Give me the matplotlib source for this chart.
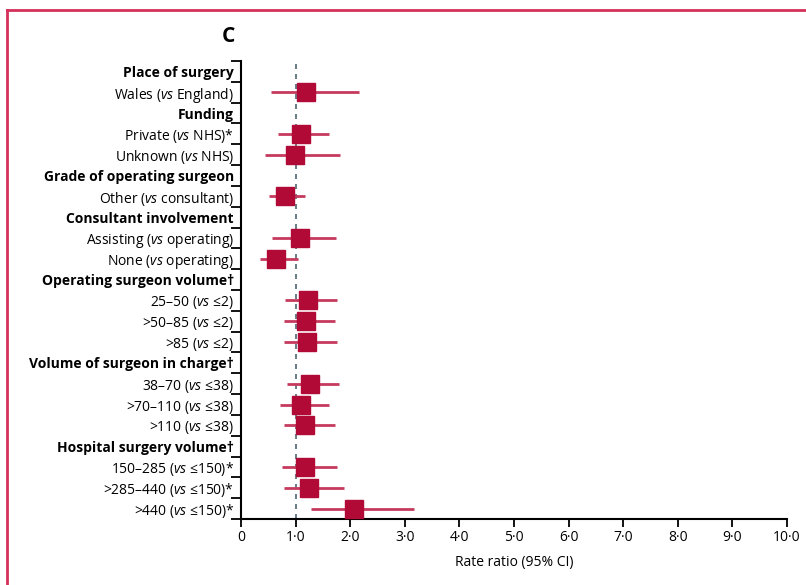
import numpy as np
import matplotlib.pyplot as plt
from matplotlib.lines import Line2D

plt.rcParams['font.family'] = ['Open Sans', 'DejaVu Sans']
plt.rcParams['mathtext.fontset'] = 'custom'
plt.rcParams['mathtext.rm'] = 'Open Sans'
plt.rcParams['mathtext.it'] = 'Open Sans:italic'
plt.rcParams['mathtext.bf'] = 'Open Sans:bold'

# rows, top to bottom
labels = [
    "Place of surgery",
    r"Wales ($\mathit{vs}$ England)",
    "Funding",
    r"Private ($\mathit{vs}$ NHS)*",
    r"Unknown ($\mathit{vs}$ NHS)",
    "Grade of operating surgeon",
    r"Other ($\mathit{vs}$ consultant)",
    "Consultant involvement",
    r"Assisting ($\mathit{vs}$ operating)",
    r"None ($\mathit{vs}$ operating)",
    "Operating surgeon volume†",
    r"25–50 ($\mathit{vs}$ ≤2)",
    r">50–85 ($\mathit{vs}$ ≤2)",
    r">85 ($\mathit{vs}$ ≤2)",
    "Volume of surgeon in charge†",
    r"38–70 ($\mathit{vs}$ ≤38)",
    r">70–110 ($\mathit{vs}$ ≤38)",
    r">110 ($\mathit{vs}$ ≤38)",
    "Hospital surgery volume†",
    r"150–285 ($\mathit{vs}$ ≤150)*",
    r">285–440 ($\mathit{vs}$ ≤150)*",
    r">440 ($\mathit{vs}$ ≤150)*",
]
is_header = [True, False, True, False, False, True, False, True, False, False,
             True, False, False, False, True, False, False, False, True, False, False, False]

rr = [np.nan, 1.19, np.nan, 1.10, 0.99, np.nan, 0.81, np.nan, 1.08, 0.64,
      np.nan, 1.23, 1.19, 1.21, np.nan, 1.26, 1.10, 1.17, np.nan, 1.17, 1.25, 2.07]
ci_lo = [np.nan, 0.55, np.nan, 0.68, 0.44, np.nan, 0.51, np.nan, 0.57, 0.34,
         np.nan, 0.81, 0.79, 0.79, np.nan, 0.85, 0.72, 0.79, np.nan, 0.75, 0.79, 1.28]
ci_hi = [np.nan, 2.16, np.nan, 1.61, 1.81, np.nan, 1.17, np.nan, 1.74, 1.04,
         np.nan, 1.75, 1.73, 1.75, np.nan, 1.80, 1.61, 1.72, np.nan, 1.75, 1.88, 3.16]

xticks = np.arange(0, 11, 1)
xticklabels = ["0"] + [f"{v}·0" for v in range(1, 11)]

fig = plt.figure(figsize=(8.06, 5.85), dpi=100)
ax = fig.add_axes([241/806, 1 - 519/585, (787 - 241)/806, (519 - 61)/585])

y = np.arange(len(labels))
for i in range(len(labels)):
    if is_header[i]:
        continue
    ax.plot([ci_lo[i], ci_hi[i]], [y[i], y[i]], color='#C63A5E', lw=2, solid_capstyle='butt', zorder=2)
    ax.plot(rr[i], y[i], marker='s', markersize=13, color='#B10A37', zorder=3)

ax.axvline(1, color='#4F6672', lw=1.2, ls=(0, (3, 3)), zorder=1)

ax.set_xlim(0, 10)
ax.set_ylim(len(labels) - 0.5, -0.5)

ax.set_yticks(np.arange(-0.5, len(labels), 1))
ax.set_yticklabels([])
ax.set_yticks(y, minor=True)
ax.set_yticklabels(labels, minor=True, fontsize=10)
for lab, hdr in zip(ax.get_yticklabels(minor=True), is_header):
    if hdr:
        lab.set_fontweight('bold')
ax.tick_params(axis='y', which='major', length=7, width=1.3, direction='out')
ax.tick_params(axis='y', which='minor', length=0, pad=5)

ax.set_xticks(xticks)
ax.set_xticklabels(xticklabels, fontsize=10)
ax.tick_params(axis='x', length=6, width=1.3, direction='out', pad=2)
ax.set_xlabel("Rate ratio (95% CI)", fontsize=10, labelpad=7)

for s in ['top', 'right']:
    ax.spines[s].set_visible(False)
for s in ['left', 'bottom']:
    ax.spines[s].set_linewidth(1.5)

fig.text(228/806, 1 - 37/585, "C", fontsize=15, fontweight='bold', ha='center', va='center')

# frame
fig.add_artist(Line2D([7/806, 1], [1 - 10/585, 1 - 10/585], color='#D4305A', lw=2))
fig.add_artist(Line2D([7/806, 7/806], [0, 1 - 10/585], color='#D4305A', lw=2))

fig.savefig("out.png", dpi=100)
